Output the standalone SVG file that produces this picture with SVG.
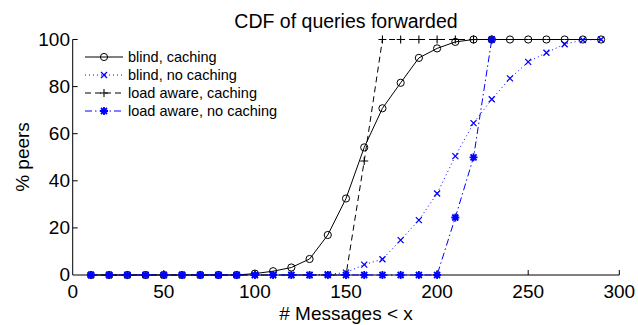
<svg xmlns="http://www.w3.org/2000/svg" width="638" height="325" viewBox="0 0 638 325">
<style>
text{font-family:"Liberation Sans",Arial,Helvetica,sans-serif;fill:#000}
.tick{font-size:19px}
.ttl{font-size:19.5px}
.lab{font-size:19px}
.leg{font-size:14.5px}
.axis{stroke:#000;stroke-width:1;fill:none}
.bc{stroke:#000;stroke-width:1;fill:none;marker-mid:url(#mo);marker-start:url(#mo);marker-end:url(#mo)}
.bn{stroke:#0000ff;stroke-width:1;fill:none;stroke-dasharray:1 3;marker-mid:url(#mx);marker-start:url(#mx);marker-end:url(#mx)}
.lc{stroke:#000;stroke-width:1;fill:none;stroke-dasharray:6 4;marker-mid:url(#mp);marker-start:url(#mp);marker-end:url(#mp)}
.ln{stroke:#0000ff;stroke-width:1;fill:none;stroke-dasharray:7 3 1.5 3;marker-mid:url(#ms);marker-start:url(#ms);marker-end:url(#ms)}
.legbc{stroke:#000;stroke-width:1;fill:none;marker-mid:url(#mo)}
.legbn{stroke:#0000ff;stroke-width:1;fill:none;stroke-dasharray:1 3;marker-mid:url(#mx)}
.leglc{stroke:#000;stroke-width:1;fill:none;stroke-dasharray:6 4;marker-mid:url(#mp)}
.legln{stroke:#0000ff;stroke-width:1;fill:none;stroke-dasharray:7 3 1.5 3;marker-mid:url(#ms)}
</style>
<defs>
<marker id="mo" markerUnits="userSpaceOnUse" markerWidth="10" markerHeight="10" refX="0" refY="0" style="overflow:visible"><circle cx="0" cy="0" r="3.6" fill="none" stroke="#000" stroke-width="1"/></marker>
<marker id="mx" markerUnits="userSpaceOnUse" markerWidth="10" markerHeight="10" refX="0" refY="0" style="overflow:visible"><path d="M-3,-3L3,3M-3,3L3,-3" stroke="#0000ff" stroke-width="1.3" fill="none"/></marker>
<marker id="mp" markerUnits="userSpaceOnUse" markerWidth="10" markerHeight="10" refX="0" refY="0" style="overflow:visible"><path d="M-4,0H4M0,-4V4" stroke="#000" stroke-width="1.1" fill="none"/></marker>
<marker id="ms" markerUnits="userSpaceOnUse" markerWidth="10" markerHeight="10" refX="0" refY="0" style="overflow:visible"><path d="M-4,0H4M0,-4V4M-3,-3L3,3M-3,3L3,-3" stroke="#0000ff" stroke-width="1.8" fill="none"/></marker>
</defs>
<text class="ttl" x="346" y="27.5" text-anchor="middle">CDF of queries forwarded</text>
<g id="axes">
<path class="axis" d="M72.7,39.5V275H619.3"/>
<path class="axis" d="M72.7,39.5h5M72.7,86.6h5M72.7,133.7h5M72.7,180.8h5M72.7,227.9h5M163.8,275v-5M254.9,275v-5M346,275v-5M437.1,275v-5M528.2,275v-5M619.3,275v-5"/>
<g class="tick" text-anchor="end">
<text x="70" y="45.8">100</text>
<text x="70" y="92.9">80</text>
<text x="70" y="140">60</text>
<text x="70" y="187.1">40</text>
<text x="70" y="234.2">20</text>
<text x="70" y="281.3">0</text>
</g>
<g class="tick" text-anchor="middle">
<text x="72.7" y="298">0</text>
<text x="163.8" y="298">50</text>
<text x="254.9" y="298">100</text>
<text x="346" y="298">150</text>
<text x="437.1" y="298">200</text>
<text x="528.2" y="298">250</text>
<text x="619.3" y="298">300</text>
</g>
<text class="lab" x="346" y="320" text-anchor="middle"># Messages &lt; x</text>
<text class="lab" transform="translate(28.5,157) rotate(-90)" text-anchor="middle">% peers</text>
</g>
<g id="connectors">
<polyline id="blind-caching" class="bc" points="90.92,275 109.14,275 127.36,275 145.58,275 163.8,275 182.02,275 200.24,275 218.46,275 236.68,275 254.9,273.6 273.12,271.2 291.34,267.5 309.56,259 327.78,235 346,198.5 364.22,147.4 382.44,108.3 400.66,82.8 418.88,57.9 437.1,48.4 455.32,41.9 473.54,39.5 491.76,39.5 509.98,39.5 528.2,39.5 546.42,39.5 564.64,39.5 582.86,39.5 601.08,39.5"/>
<polyline id="blind-no-caching" class="bn" points="90.92,275 109.14,275 127.36,275 145.58,275 163.8,275 182.02,275 200.24,275 218.46,275 236.68,275 254.9,275 273.12,275 291.34,275 309.56,275 327.78,274.3 346,272.6 364.22,264.6 382.44,259.2 400.66,240.1 418.88,220.1 437.1,193.5 455.32,156.1 473.54,123.1 491.76,99.3 509.98,78.4 528.2,61.9 546.42,52.7 564.64,44.2 582.86,40 601.08,39.5"/>
<polyline id="load-aware-caching" class="lc" points="90.92,275 109.14,275 127.36,275 145.58,275 163.8,275 182.02,275 200.24,275 218.46,275 236.68,275 254.9,275 273.12,275 291.34,275 309.56,275 327.78,275 346,275 364.22,161 382.44,39.5 400.66,39.5 418.88,39.5 437.1,39.5 455.32,39.5 473.54,39.5"/>
<polyline id="load-aware-no-caching" class="ln" points="90.92,275 109.14,275 127.36,275 145.58,275 163.8,275 182.02,275 200.24,275 218.46,275 236.68,275 254.9,275 273.12,275 291.34,275 309.56,275 327.78,275 346,275 364.22,275 382.44,275 400.66,275 418.88,275 437.1,275 455.32,217.5 473.54,157.3 491.76,39.5"/>
</g>
<g id="legend">
<polyline class="legbc" points="85,57 104,57 123,57"/>
<text class="leg" x="128" y="62">blind, caching</text>
<polyline class="legbn" points="85,75 104,75 123,75"/>
<text class="leg" x="128" y="80">blind, no caching</text>
<polyline class="leglc" points="85,93 104,93 123,93"/>
<text class="leg" x="128" y="98">load aware, caching</text>
<polyline class="legln" points="85,111 104,111 123,111"/>
<text class="leg" x="128" y="116">load aware, no caching</text>
</g>
</svg>
